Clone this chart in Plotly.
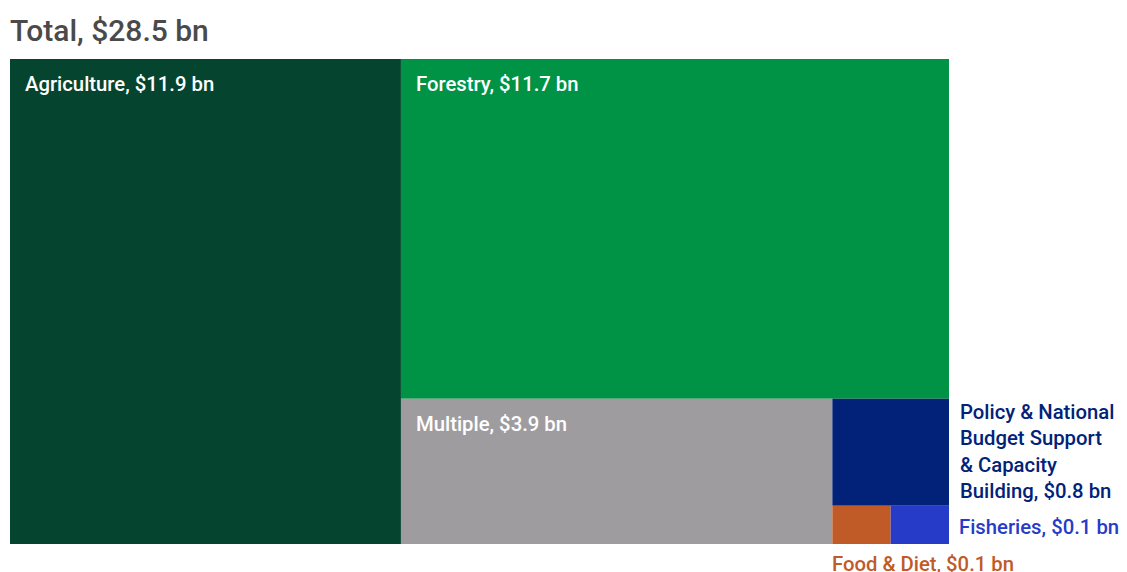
import plotly.graph_objects as go

# ---------------- Data ----------------
categories = ["Agriculture", "Forestry", "Multiple",
              "Policy & National<br>Budget Support<br>& Capacity<br>Building",
              "Food & Diet", "Fisheries"]
values_bn = [11.87, 11.66, 3.92, 0.78, 0.14, 0.14]
colors = ["#05452f", "#009345", "#9e9c9f", "#022279", "#c05b28", "#263cc8"]

FONT = "Roboto"
PAGE_OFF = 8          # browser body margin
FIG_W, FIG_H = 1127 - PAGE_OFF, 572 - PAGE_OFF
W, H = 939, 485       # plot area in px, used as axis units


def spiral_rects(values, w, h):
    """Alternate vertical / horizontal strips, each taking its share of what is left."""
    x0, y0, x1, y1 = 0.0, 0.0, float(w), float(h)
    left = sum(values)
    rects = []
    for i, v in enumerate(values):
        if i == len(values) - 1:
            rects.append((x0, y0, x1, y1))
            break
        frac = v / left
        if i % 2 == 0:
            xm = x0 + (x1 - x0) * frac
            rects.append((x0, y0, xm, y1))
            x0 = xm
        else:
            ym = y0 + (y1 - y0) * frac
            rects.append((x0, y0, x1, ym))
            y0 = ym
        left -= v
    return rects


rects = spiral_rects(values_bn, W, H)

fig = go.Figure()
for name, v, c, (x0, y0, x1, y1) in zip(categories, values_bn, colors, rects):
    fig.add_trace(go.Bar(
        x=[(x0 + x1) / 2], y=[y1 - y0], base=[y0], width=[x1 - x0],
        marker=dict(color=c, line=dict(width=0)),
        name=name, hoverinfo="skip", showlegend=False,
    ))

# ---------------- Labels ----------------
lab_font = dict(family=FONT, size=20.3, weight=500)
for i, (name, v, c, (x0, y0, x1, y1)) in enumerate(zip(categories, values_bn, colors, rects)):
    text = f"{name}, ${v:.1f} bn"
    if i < 3:
        fig.add_annotation(x=x0, y=y0, xshift=13, yshift=-25, text=text,
                           xanchor="left", yanchor="middle", showarrow=False,
                           font=dict(lab_font, color="white"))
    elif i == 3:
        fig.add_annotation(x=x1, y=y0, xshift=9, yshift=1, text=text,
                           xanchor="left", yanchor="top", showarrow=False, align="left",
                           font=dict(lab_font, color=c))
    elif i == 4:
        fig.add_annotation(x=x0, y=y1, xshift=-2, yshift=-20, text=text,
                           xanchor="left", yanchor="middle", showarrow=False,
                           font=dict(lab_font, color=c))
    else:
        fig.add_annotation(x=x1, y=(y0 + y1) / 2, xshift=8, yshift=-2, text=text,
                           xanchor="left", yanchor="middle", showarrow=False,
                           font=dict(lab_font, color=c))

fig.update_layout(
    width=FIG_W, height=FIG_H,
    margin=dict(l=10 - PAGE_OFF, r=FIG_W - (10 - PAGE_OFF) - W,
                t=59 - PAGE_OFF, b=FIG_H - (59 - PAGE_OFF) - H),
    paper_bgcolor="white", plot_bgcolor="white",
    barmode="overlay",
    title=dict(text=f"Total, ${sum(values_bn):.1f} bn", xref="container",
               x=(10 - PAGE_OFF) / FIG_W, xanchor="left",
               yref="container", y=1 - (30 - PAGE_OFF) / FIG_H, yanchor="middle",
               font=dict(family=FONT, size=30, weight=500, color="#4a4a4a")),
    xaxis=dict(range=[0, W], visible=False, fixedrange=True),
    yaxis=dict(range=[H, 0], visible=False, fixedrange=True),
)

fig.write_html("out.html")
